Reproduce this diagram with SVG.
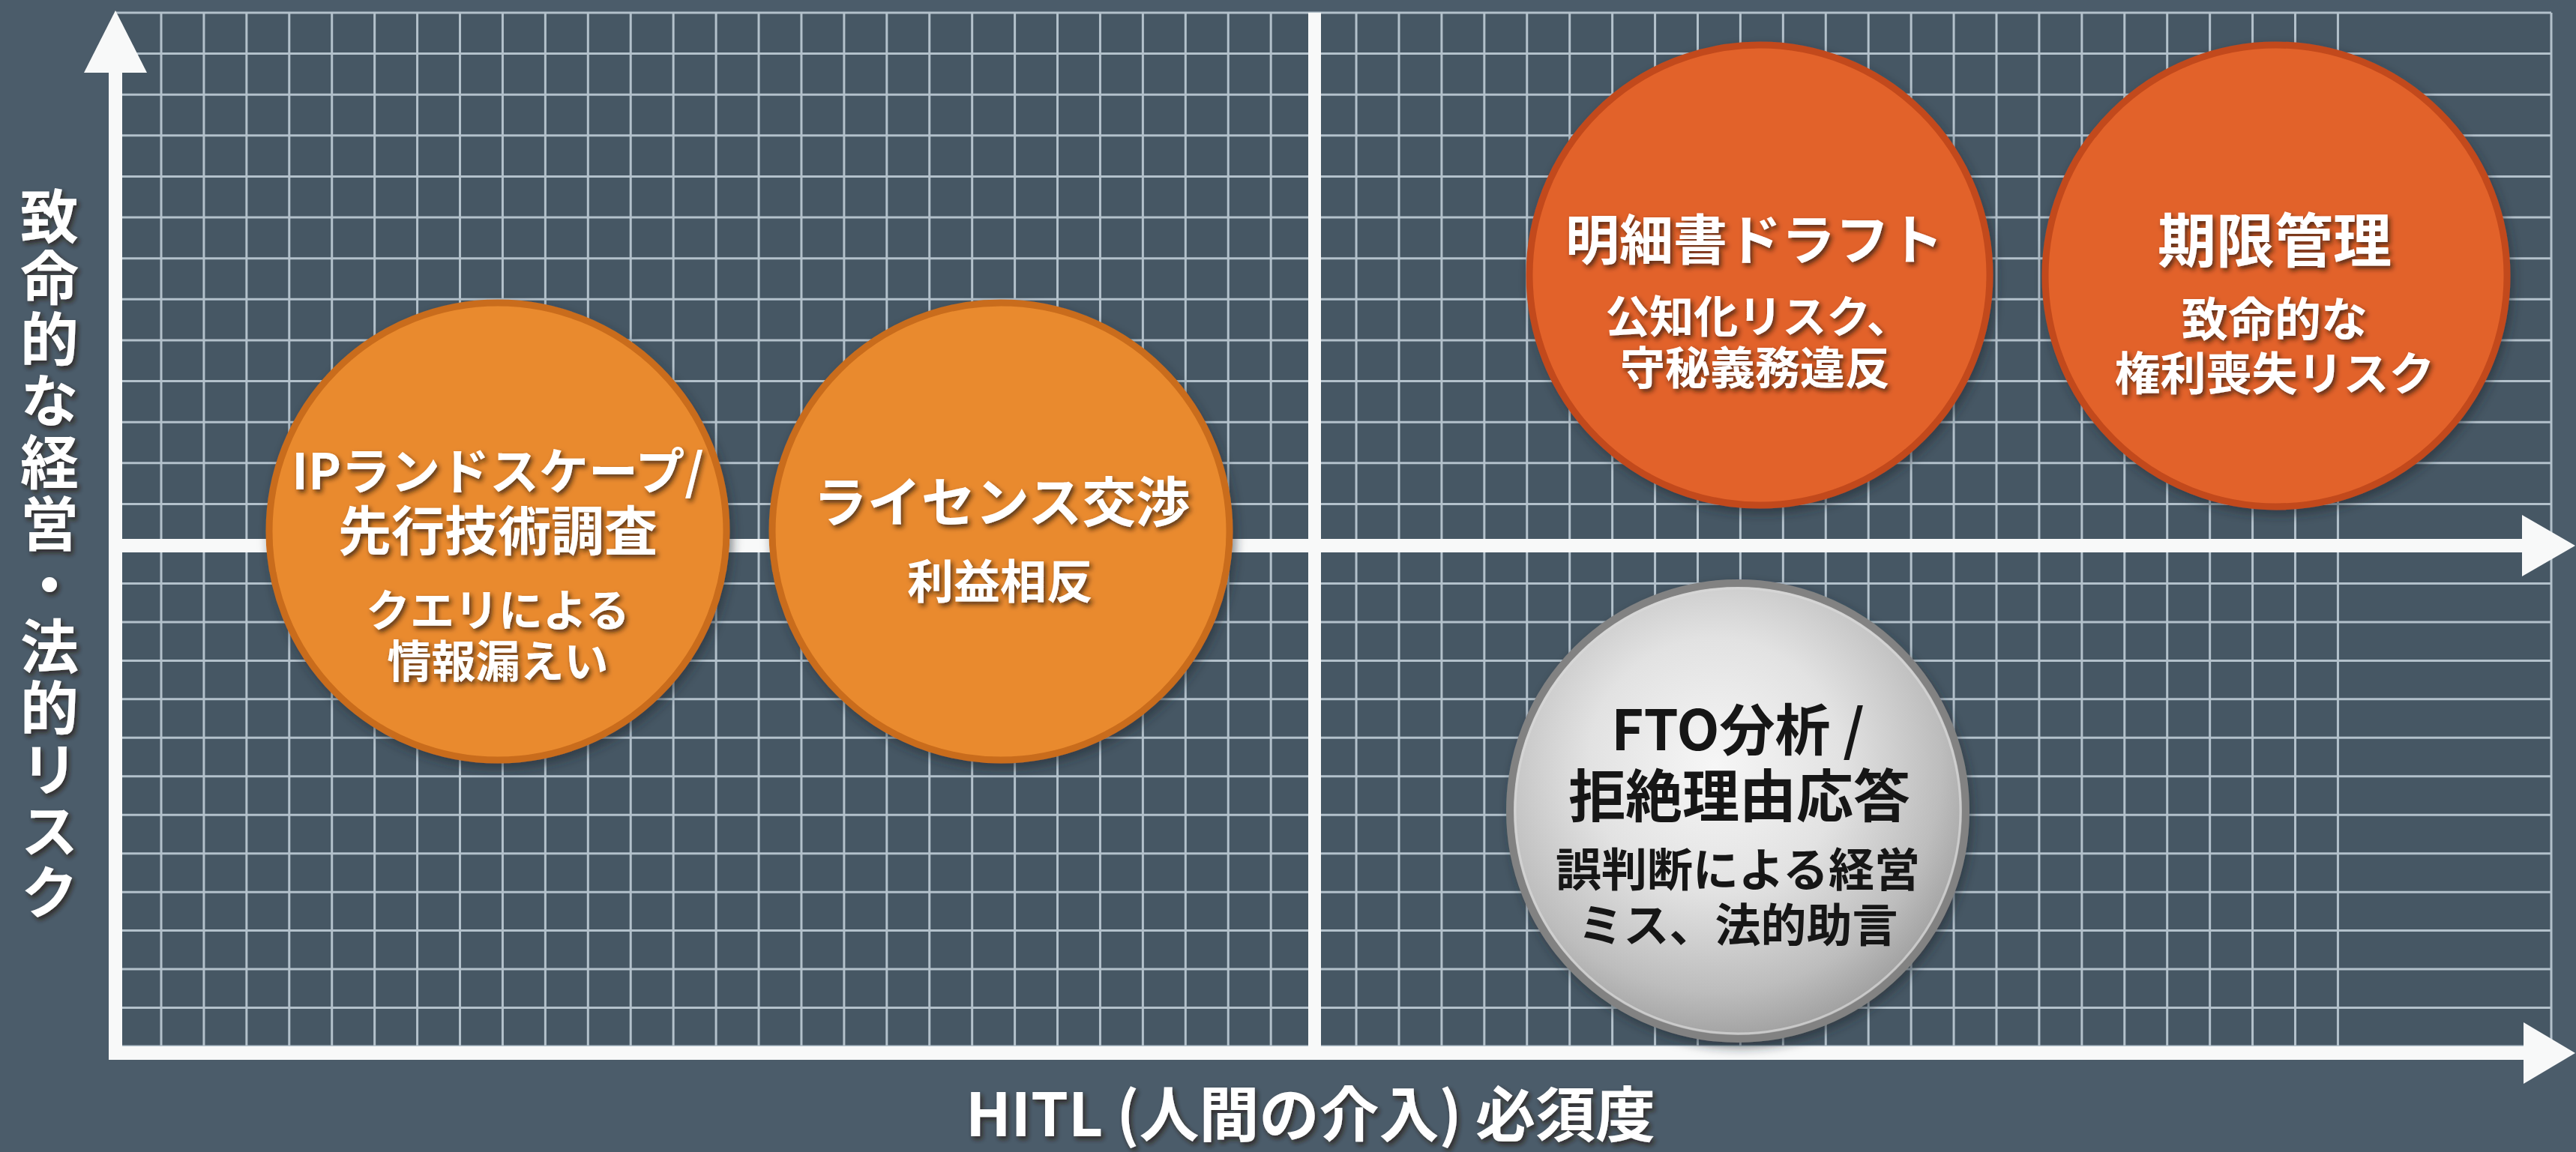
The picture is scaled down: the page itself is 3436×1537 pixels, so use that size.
<svg xmlns="http://www.w3.org/2000/svg" width="3436" height="1537" viewBox="0 0 3436 1537">
<defs>
<style>
.grid{stroke:#b3c1cb;stroke-width:3;fill:none}
.axis{fill:#f8f9f9}
.t{font-family:"Noto Sans CJK JP","Noto Sans",sans-serif;font-weight:700;text-anchor:middle;dominant-baseline:central}
.w{fill:#ffffff;filter:url(#ts)}
.k{fill:#141414}
.orange{fill:#e98a2f;stroke:#c96c1c;stroke-width:9}
.red{fill:#e2622b;stroke:#c24a1c;stroke-width:9}
.silver{fill:url(#silv);stroke:#828282;stroke-width:10}
</style>
<filter id="ts" x="-10%" y="-30%" width="120%" height="160%">
<feDropShadow dx="3" dy="4" stdDeviation="3" flood-color="#2a1c10" flood-opacity="0.75"/>
</filter>
<filter id="cs" x="-10%" y="-10%" width="120%" height="120%">
<feDropShadow dx="4" dy="7" stdDeviation="7" flood-color="#1c252d" flood-opacity="0.55"/>
</filter>
<radialGradient id="silv" cx="0.45" cy="0.4" r="0.62">
<stop offset="0" stop-color="#f6f6f6"/>
<stop offset="0.45" stop-color="#e2e2e2"/>
<stop offset="0.8" stop-color="#bdbdbd"/>
<stop offset="1" stop-color="#9c9c9c"/>
</radialGradient>
</defs>
<rect width="3436" height="1537" fill="#4b5c6a"/>
<g id="grid">
<rect x="154" y="17" width="3249" height="1379" fill="#465764"/>
<path class="grid" d="M215 17v1379m56.93-1379v1379m56.93-1379v1379m56.93-1379v1379m56.93-1379v1379m56.93-1379v1379m56.93-1379v1379m56.93-1379v1379m56.93-1379v1379m56.93-1379v1379m56.93-1379v1379m56.93-1379v1379
m56.93-1379v1379m56.93-1379v1379m56.93-1379v1379m56.93-1379v1379m56.93-1379v1379m56.93-1379v1379m56.93-1379v1379m56.93-1379v1379m56.93-1379v1379m56.93-1379v1379
m56.93-1379v1379m56.93-1379v1379m56.93-1379v1379m56.93-1379v1379m56.93-1379v1379m56.93-1379v1379m56.93-1379v1379m56.93-1379v1379m56.93-1379v1379m56.93-1379v1379
m56.93-1379v1379m56.93-1379v1379m56.93-1379v1379m56.93-1379v1379m56.93-1379v1379m56.93-1379v1379m56.93-1379v1379m56.93-1379v1379m56.93-1379v1379m56.93-1379v1379
m56.93-1379v1379m56.93-1379v1379m56.93-1379v1379m56.93-1379v1379m56.93-1379v1379m56.93-1379v1379m56.93-1379v1379m56.93-1379v1379m56.93-1379v1379m56.93-1379v1379
M3403 17v1379"/>
<path class="grid" d="M154 17h3249m-3249 54.62h3249m-3249 54.62h3249m-3249 54.62h3249m-3249 54.62h3249m-3249 54.62h3249m-3249 54.62h3249m-3249 54.62h3249m-3249 54.62h3249m-3249 54.62h3249m-3249 54.62h3249m-3249 54.62h3249m-3249 54.62h3249
M154 778.46h3249m-3249 51.46h3249m-3249 51.46h3249m-3249 51.46h3249m-3249 51.46h3249m-3249 51.46h3249m-3249 51.46h3249m-3249 51.46h3249m-3249 51.46h3249m-3249 51.46h3249m-3249 51.46h3249m-3249 51.46h3249m-3249 51.46h3249"/>
</g>
<g id="axes">
<rect class="axis" x="1745" y="17" width="17" height="1382"/>
<rect class="axis" x="145" y="719" width="3222" height="18"/>
<polygon class="axis" points="3364,687 3435,728 3364,769"/>
<rect class="axis" x="145" y="1396" width="3224" height="18"/>
<polygon class="axis" points="3366,1364 3435,1405 3366,1446"/>
<rect class="axis" x="145" y="90" width="18" height="1324"/>
<polygon class="axis" points="154,14 112,97 196,97"/>
</g>
<g id="node-ip" filter="url(#cs)">
<circle class="orange" cx="664" cy="709" r="305"/>
<text class="t w"><tspan x="664" y="624" font-size="66">IPランドスケープ/</tspan><tspan x="664" y="703" font-size="71">先行技術調査</tspan><tspan x="664" y="810" font-size="59">クエリによる</tspan><tspan x="664" y="878" font-size="59">情報漏えい</tspan></text>
</g>
<g id="node-license" filter="url(#cs)">
<circle class="orange" cx="1335" cy="709" r="305"/>
<text class="t w"><tspan x="1336" y="664" font-size="72">ライセンス交渉</tspan><tspan x="1334" y="772" font-size="62">利益相反</tspan></text>
</g>
<g id="node-draft" filter="url(#cs)">
<circle class="red" cx="2347" cy="367" r="307"/>
<text class="t w"><tspan x="2340" y="314" font-size="72">明細書ドラフト</tspan><tspan x="2345" y="418" font-size="59">公知化リスク、</tspan><tspan x="2341" y="486" font-size="60">守秘義務違反</tspan></text>
</g>
<g id="node-deadline" filter="url(#cs)">
<circle class="red" cx="3036" cy="368" r="308"/>
<text class="t w"><tspan x="3034" y="316" font-size="78">期限管理</tspan><tspan x="3034" y="422" font-size="62">致命的な</tspan><tspan x="3034" y="494" font-size="61">権利喪失リスク</tspan></text>
</g>
<g id="node-fto" filter="url(#cs)">
<circle class="silver" cx="2318" cy="1082" r="304"/>
<circle cx="2318" cy="1082" r="297" fill="none" stroke="#d9d9d9" stroke-width="3" opacity="0.7"/>
<text class="t k"><tspan x="2318" y="968" font-size="74">FTO分析 /</tspan><tspan x="2320" y="1057" font-size="76">拒絶理由応答</tspan><tspan x="2318" y="1156" font-size="61">誤判断による経営</tspan><tspan x="2318" y="1230" font-size="61">ミス、法的助言</tspan></text>
</g>
<g id="labels">
<text class="t w" x="66" y="741" font-size="78" letter-spacing="4" style="writing-mode:vertical-rl">致命的な経営・法的リスク</text>
<text class="t w" x="1748" y="1481" font-size="80">HITL (人間の介入) 必須度</text>
</g>
</svg>
